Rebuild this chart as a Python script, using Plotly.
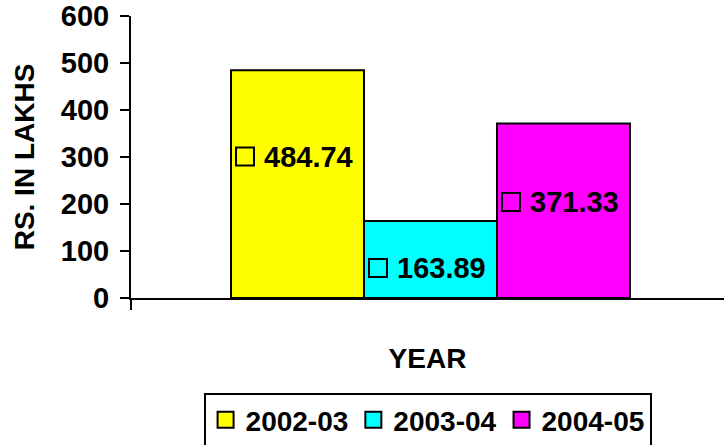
import plotly.graph_objects as go

years = ["2002-03", "2003-04", "2004-05"]
values = [484.74, 163.89, 371.33]
colors = ["#FFFF00", "#00FFFF", "#FF00FF"]
label_y = [301, 64, 204]          # vertical position of each data label
y_ticks = [0, 100, 200, 300, 400, 500, 600]

FONT = "Liberation Sans, Arial, sans-serif"
sq_off = 14 / 133.0   # square centre offset from bar's left edge (data units)

def bold(size):
    return dict(family=FONT, size=size, color="black", weight="bold")

fig = go.Figure()
for i, (yr, v, c) in enumerate(zip(years, values, colors)):
    fig.add_trace(go.Bar(
        x=[i], y=[v], width=1, name=yr,
        marker=dict(color=c, line=dict(color="black", width=2)),
        showlegend=False, hoverinfo="skip"))

# label squares
for i, (yr, c, ly) in enumerate(zip(years, colors, label_y)):
    fig.add_trace(go.Scatter(
        x=[i - 0.5 + sq_off], y=[ly], mode="markers",
        marker=dict(symbol="square", size=18, color=c,
                    line=dict(color="black", width=2)),
        showlegend=False, hoverinfo="skip"))

# legend entries
for yr, c in zip(years, colors):
    fig.add_trace(go.Scatter(
        x=[None], y=[None], mode="markers", name=f"<b>{yr}</b>",
        marker=dict(symbol="square", size=16, color=c,
                    line=dict(color="black", width=2))))

for i, (v, ly) in enumerate(zip(values, label_y)):
    fig.add_annotation(
        x=i - 0.5, y=ly, xref="x", yref="y", text=f"<b>{v:.2f}</b>",
        showarrow=False, xanchor="left", yanchor="middle", xshift=31,
        font=bold(29))

fig.update_layout(
    width=724, height=445,
    margin=dict(l=131, r=0, t=16, b=147, autoexpand=False),
    paper_bgcolor="white", plot_bgcolor="white",
    font=bold(29),
    barmode="overlay",
    showlegend=True,
    legend=dict(
        orientation="h", x=0.1224, xanchor="left", y=-0.337, yanchor="top",
        xref="paper", yref="paper",
        bordercolor="black", borderwidth=2, bgcolor="white",
        font=bold(28), itemsizing="trace", tracegroupgap=0),
)
fig.update_xaxes(
    range=[-1.252, 3.207], showgrid=False, zeroline=False, automargin=False,
    showline=True, linecolor="black", linewidth=2,
    tickmode="array", tickvals=[-1.252], ticktext=[""],
    ticks="outside", ticklen=10, tickwidth=2, tickcolor="black",
    title=dict(text="<b>YEAR</b>", standoff=34, font=bold(28)))
fig.update_yaxes(
    range=[0, 600], tickmode="array", tickvals=y_ticks,
    ticktext=[f"<b>{t}</b>" for t in y_ticks], automargin=False,
    showgrid=False, zeroline=False,
    showline=True, linecolor="black", linewidth=2,
    ticks="outside", ticklen=9, tickwidth=2, tickcolor="black",
    ticklabelstandoff=5,
    tickfont=bold(29),
    title=dict(text="<b>RS. IN LAKHS</b>", standoff=18, font=bold(28)))

fig.write_html("out.html", post_script="document.body.style.margin='0';",
               config={"displayModeBar": False})
